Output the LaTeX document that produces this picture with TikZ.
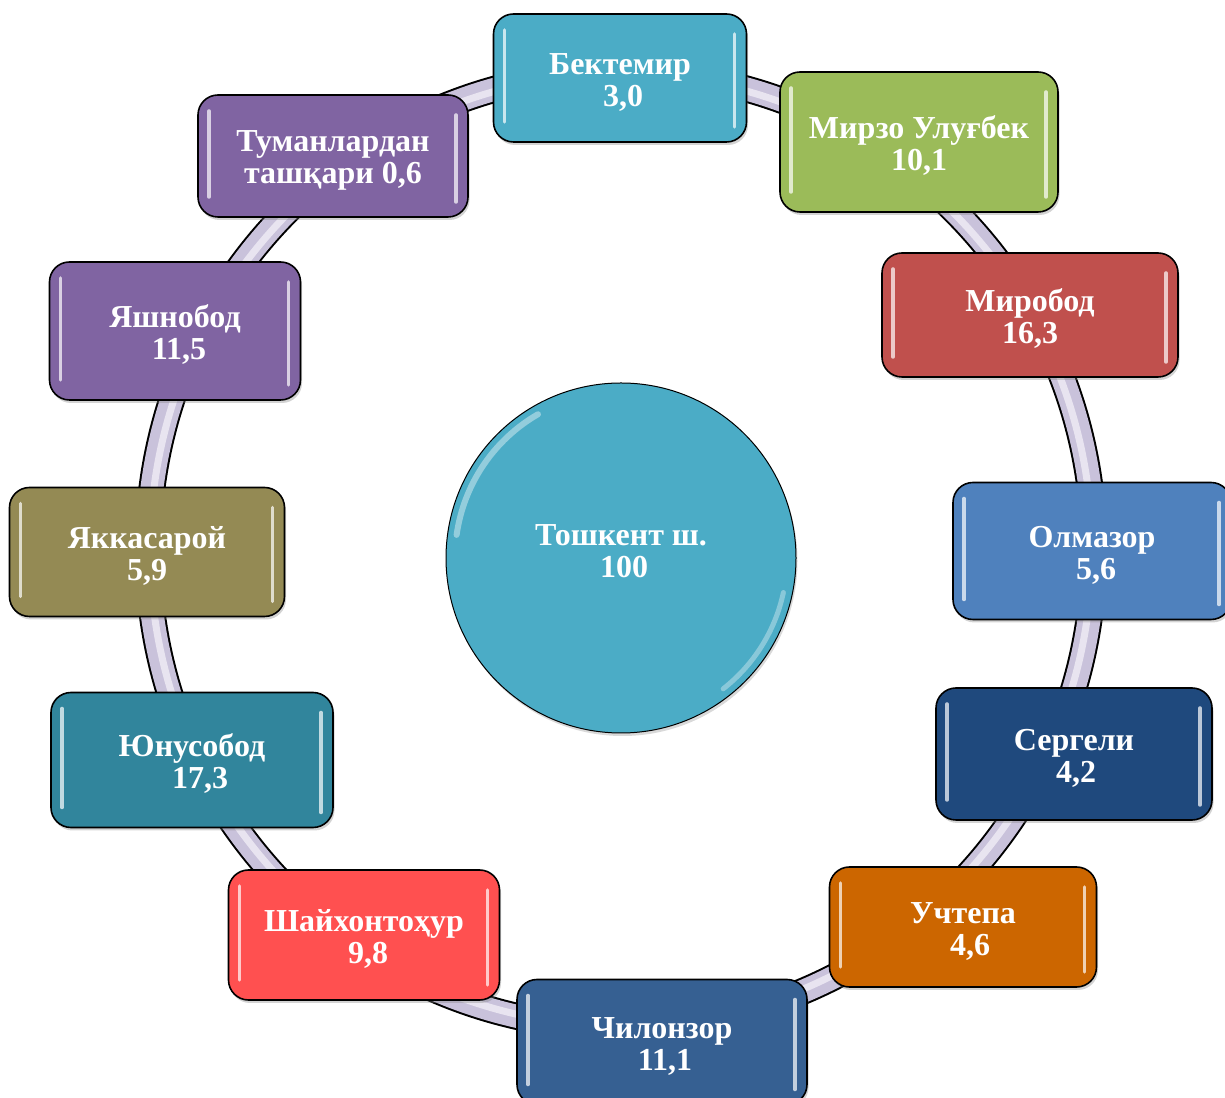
\documentclass[tikz,border=0pt]{standalone}
\usepackage{fontspec}
\setmainfont{Liberation Serif}
\usetikzlibrary{shadows}
\definecolor{skyteal}{RGB}{75,172,198}
\definecolor{leafgreen}{RGB}{155,187,89}
\definecolor{rustred}{RGB}{192,80,77}
\definecolor{steelblue}{RGB}{79,129,189}
\definecolor{deepnavy}{RGB}{31,73,125}
\definecolor{burntorange}{RGB}{204,102,0}
\definecolor{denimblue}{RGB}{54,96,146}
\definecolor{coralred}{RGB}{255,80,80}
\definecolor{petrol}{RGB}{49,133,156}
\definecolor{olivekhaki}{RGB}{148,138,84}
\definecolor{lavpurple}{RGB}{128,100,162}
\definecolor{ringlilac}{RGB}{201,194,219}
\definecolor{ringlight}{RGB}{232,228,240}
\newcommand\labelfont{\bfseries\fontsize{32}{32}\selectfont}
\newcommand\lead[1]{\hspace*{#1}}
\newcommand\tall{\rule{0pt}{29pt}}

\begin{document}
\begin{tikzpicture}[
  x=1pt, y=1pt,
  box/.style={rectangle, rounded corners=20pt, draw=black, line width=1.6pt,
              fill=#1, text=white, align=center, font=\labelfont, inner sep=0pt,
              drop shadow={shadow xshift=1.5pt, shadow yshift=-3pt, opacity=0.35},
              path picture={
                \draw[white, opacity=0.7, line width=3.5pt, line cap=round]
                  ([xshift=11pt, yshift=-16pt]path picture bounding box.north west)
                  -- ([xshift=11pt, yshift=20pt]path picture bounding box.south west);
                \draw[white, opacity=0.7, line width=3.5pt, line cap=round]
                  ([xshift=-12pt, yshift=-20pt]path picture bounding box.north east)
                  -- ([xshift=-12pt, yshift=15pt]path picture bounding box.south east);
              }},
  size/.style 2 args={minimum width=#1, minimum height=#2},
  hub/.style={circle, minimum size=350pt, inner sep=0pt, fill=skyteal, draw=black,
              line width=1pt, text=white, align=center, font=\labelfont,
              execute at end node={\rule[-14pt]{0pt}{14pt}},
              drop shadow={shadow xshift=1.5pt, shadow yshift=-3pt, opacity=0.3},
              path picture={
                \draw[white, opacity=0.4, line width=6pt, line cap=round]
                  ([shift={(172:166pt)}]path picture bounding box.center)
                  arc[start angle=172, end angle=120, radius=166pt];
                \draw[white, opacity=0.35, line width=5pt, line cap=round]
                  ([shift={(-12:166pt)}]path picture bounding box.center)
                  arc[start angle=-12, end angle=-52, radius=166pt];
              }},
  ring/.style={line width=#1}
]
\useasboundingbox (0,0) rectangle (1225,1097);

% ring behind the districts
\coordinate (ringc) at (621,547);
\draw[ring=27pt, black] (ringc) ellipse [x radius=473, y radius=478];
\draw[ring=23pt, ringlilac] (ringc) ellipse [x radius=473, y radius=478];
\draw[ring=7pt, ringlight] (ringc) ellipse [x radius=471, y radius=476];

% districts
\node[box=skyteal, size={253pt}{128pt}] (bektemir) at (620,1019) {\tall Бектемир\\\lead{6pt}3,0};
\node[box=leafgreen, size={278pt}{140pt}] (mirzo) at (919,955) {\tall Мирзо Улуғбек\\10,1};
\node[box=rustred, size={296pt}{124pt}] (mirobod) at (1030,782) {\tall Миробод\\16,3};
\node[box=steelblue, size={278pt}{137pt}] (olmazor) at (1092,546) {\tall Олмазор\\\lead{8pt}5,6};
\node[box=deepnavy, size={276pt}{132pt}] (sergeli) at (1074,343) {\tall Сергели\\\lead{4pt}4,2};
\node[box=burntorange, size={267pt}{120pt}] (uchtepa) at (963,170) {\tall Учтепа\\\lead{14pt}4,6};
\node[box=denimblue, size={290pt}{125pt}] (chilonzor) at (662,55) {\tall Чилонзор\\\lead{6pt}11,1};
\node[box=coralred, size={271pt}{130pt}] (shaykh) at (364,162) {\tall Шайхонтоҳур\\\lead{8pt}9,8};
\node[box=petrol, size={282pt}{135pt}] (yunusobod) at (192,337) {\tall Юнусобод\\\lead{16pt}17,3};
\node[box=olivekhaki, size={275pt}{129pt}] (yakkasaroy) at (147,545) {\tall Яккасарой\\5,9};
\node[box=lavpurple, size={251pt}{138pt}] (yashnobod) at (175,766) {\tall Яшнобод\\\lead{8pt}11,5};
\node[box=lavpurple, size={270pt}{122pt}] (outside) at (333,941) {\tall Туманлардан\\ташқари 0,6};

% city total
\node[hub] (city) at (621,539) {Тошкент ш.\\\lead{6pt}100};

\end{tikzpicture}
\end{document}
